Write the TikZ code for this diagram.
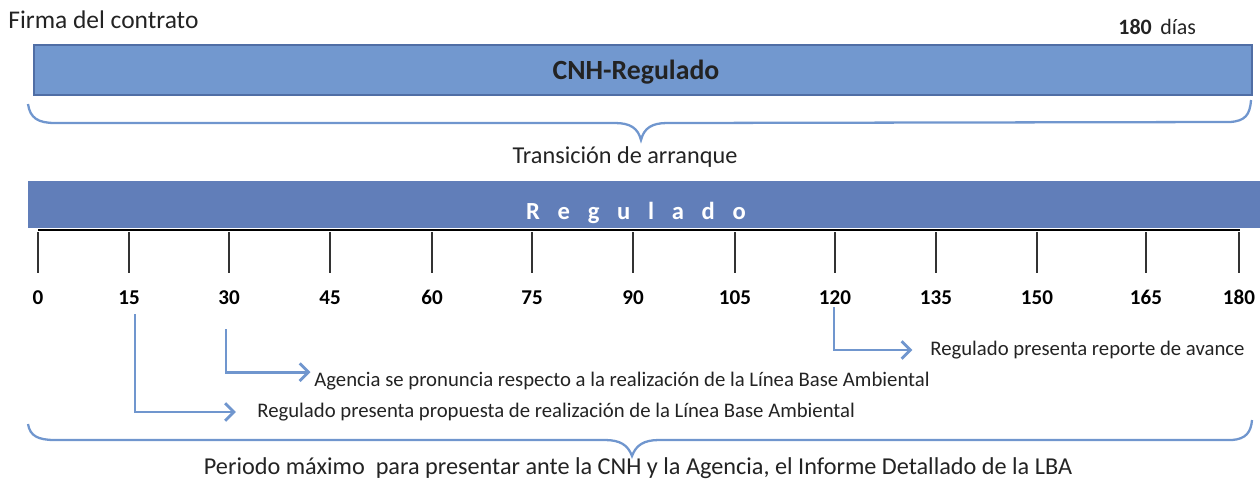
\documentclass[tikz,border=0pt]{standalone}
\usepackage{fontspec}
\setmainfont{Carlito}
\usepackage{tikz}
\usetikzlibrary{arrows.meta}
\definecolor{barlight}{RGB}{114,152,207}
\definecolor{bardark}{RGB}{97,126,185}
\definecolor{baredge}{RGB}{80,110,165}
\definecolor{bracecol}{RGB}{112,150,206}
\definecolor{textgray}{RGB}{35,35,35}

\tikzset{
  plaintext/.style={inner sep=0pt, text=textgray, font=\fontsize{13.8}{16}\selectfont},
  ticklabel/.style={inner sep=0pt, anchor=base, font=\fontsize{12}{14}\selectfont\bfseries},
  notetext/.style={inner sep=0pt, anchor=west, text=textgray, font=\fontsize{11.8}{14}\selectfont},
  bracestyle/.style={draw=bracecol, line width=1.3pt},
  callout/.style={draw=bracecol, line width=1.6pt, -{Straight Barb[length=5pt,width=10pt]}}
}

\begin{document}
\begin{tikzpicture}[x=0.02cm, y=-0.02cm]
        \useasboundingbox (0,0) rectangle (1260,485);
        % Header
        \node[plaintext, anchor=west, font=\fontsize{14.5}{16}\selectfont] (firma) at (8,20) {Firma del contrato};
        \node[plaintext, anchor=west, font=\fontsize{12.5}{14}\selectfont] (dias) at (1118,27) {\textbf{180}\, días};
        % CNH-Regulado bar
        \draw[fill=barlight, draw=baredge, line width=0.8pt] (34,45) rectangle (1252,95);
        \node[inner sep=0pt, text=textgray, font=\fontsize{15.8}{18}\selectfont\bfseries] (cnh) at (636,72) {CNH-Regulado};
        % Transition brace
        \draw[bracestyle] (28,104) .. controls (30,118) and (38,123) .. (55,123) -- (615,123)
            .. controls (630,123) and (638,128) .. (641,140)
            .. controls (644,128) and (652,123) .. (667,123) -- (1230,122)
            .. controls (1245,121) and (1250,115) .. (1251,100);
        \node[plaintext] (arranque) at (625,157) {Transición de arranque};
        % Regulado bar
        \fill[bardark] (28,181) rectangle (1260,228);
        \node[inner sep=0pt, text=white, font=\fontsize{14}{16}\selectfont\bfseries] (regulado) at (636,213) {R\hspace{0.72em}e\hspace{0.72em}g\hspace{0.72em}u\hspace{0.72em}l\hspace{0.72em}a\hspace{0.72em}d\hspace{0.72em}o};
        % Time axis
        \draw[black, line width=1.3pt] (38,230) -- (1240,230);
        \foreach \x/\d in {38/0,129/15,229/30,330/45,432/60,532/75,633/90,735/105,835/120,936/135,1037/150,1146/165,1239/180}{
            \draw[black!80, line width=1pt] (\x,232) -- (\x,273);
            \node[ticklabel] (t\d) at (\x,304) {\d};
        }
        % Milestones
        \coordinate (from15) at (135,314);
        \coordinate (from30) at (226,329);
        \coordinate (from120) at (834,307);
        \node[notetext] (propuesta) at (257,412) {Regulado presenta propuesta de realización de la Línea Base Ambiental};
        \node[notetext] (pronuncia) at (314,381) {Agencia se pronuncia respecto a la realización de la Línea Base Ambiental};
        \node[notetext] (avance) at (930,350) {Regulado presenta reporte de avance};
        \draw[callout] (from15) |- ([xshift=-12pt]propuesta.west);
        \draw[callout] (from30) |- ([xshift=-2pt,yshift=5pt]pronuncia.west);
        \draw[callout] (from120) |- ([xshift=-10pt]avance.west);
        % Maximum period brace
        \draw[bracestyle] (28,424) .. controls (30,436) and (38,440) .. (55,440) -- (605,440)
            .. controls (620,440) and (628,445) .. (632,456)
            .. controls (636,445) and (644,440) .. (659,440) -- (1232,440)
            .. controls (1246,439) and (1251,432) .. (1252,420);
        \node[plaintext] (periodo) at (638,468) {Periodo máximo\ \ para presentar ante la CNH y la Agencia, el Informe Detallado de la LBA};
    \end{tikzpicture}
\end{document}
